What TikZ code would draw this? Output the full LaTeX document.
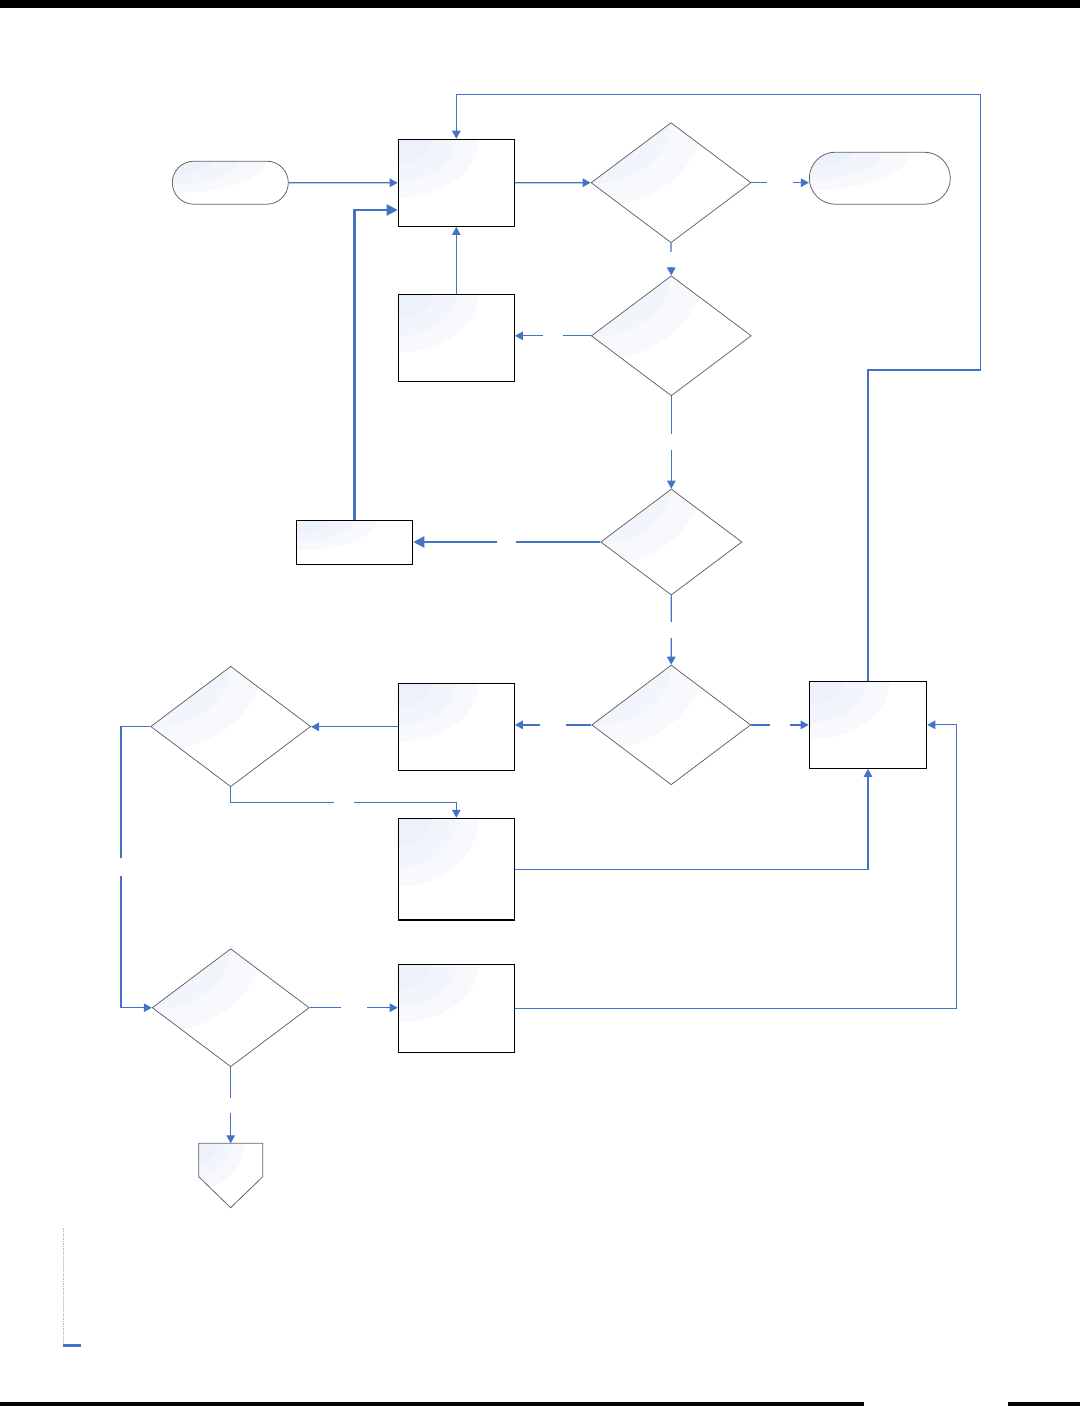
\documentclass[tikz,border=0pt]{standalone}
\usetikzlibrary{shapes.geometric,arrows.meta,calc}
\definecolor{conn}{HTML}{4472C4}
\definecolor{glA}{HTML}{ECF1FA}
\definecolor{glB}{HTML}{F2F5FB}
\definecolor{glC}{HTML}{F7F9FD}
\definecolor{dotc}{HTML}{A9C0E6}
\tikzset{
  glare/.style 2 args={path picture={
    \fill[glC] (path picture bounding box.north west) ellipse [x radius=#1, y radius=#2];
    \fill[glB] (path picture bounding box.north west) ellipse [x radius={0.72*#1}, y radius={0.72*#2}];
    \fill[glA] (path picture bounding box.north west) ellipse [x radius={0.42*#1}, y radius={0.42*#2}];
  }},
  box/.style={draw=black, line width=1.2pt, fill=white, minimum width=116pt, inner sep=0pt, glare={80pt}{58pt}},
  dia/.style={diamond, draw=black!65, line width=0.7pt, fill=white, inner sep=0pt, minimum width=160pt, minimum height=120pt, glare={110pt}{85pt}},
  term/.style={rectangle, draw=black!60, line width=0.8pt, fill=white, inner sep=0pt},
  ln/.style={draw=conn, line width=1.2pt, -{Triangle[length=8pt,width=8.5pt]}},
  lnthick/.style={draw=conn, line width=2.3pt, -{Triangle[length=11pt,width=11pt]}},
  gapn/.style={fill=white, draw=none, inner sep=0pt, minimum size=#1},
}
\begin{document}
\begin{tikzpicture}[x=1pt,y=-1pt]
\useasboundingbox (0,0) rectangle (1080,1406);
\fill[black] (0,0) rectangle (1080,8);
\fill[black] (0,1402) rectangle (864,1406);
\fill[black] (1007.5,1402) rectangle (1080,1406);

% nodes
\node[term, minimum width=116pt, minimum height=43pt, rounded corners=21.5pt, glare={93pt}{32pt}] (start) at (230.3,182.7) {};
\node[term, minimum width=141pt, minimum height=52pt, rounded corners=26pt, glare={100pt}{38pt}] (endt) at (879.8,178.2) {};
\node[box, minimum height=87pt] (A) at (456.3,182.8) {};
\node[dia] (D1) at (671,182.7) {};
\node[box, minimum height=87pt] (B) at (456.3,337.8) {};
\node[dia] (D2) at (671.3,335.8) {};
\node[dia, minimum width=141.3pt, minimum height=106pt, glare={97pt}{75pt}] (D3) at (671.3,542) {};
\node[box, minimum width=116.4pt, minimum height=44pt, glare={80pt}{30pt}] (C) at (354.5,542.3) {};
\node[dia, minimum width=159pt, minimum height=119.7pt] (D4) at (671.2,724.9) {};
\node[box, minimum width=117.4pt, minimum height=87pt] (E) at (868,724.8) {};
\node[box, minimum height=87pt] (F) at (456.3,726.8) {};
\node[dia, minimum height=120.4pt] (D5) at (230.7,726.5) {};
\node[box, minimum height=101.7pt, glare={80pt}{68pt}] (G) at (456.3,869.2) {};
\node[dia, minimum width=157pt, minimum height=118pt, glare={108pt}{84pt}] (D6) at (230.7,1007.7) {};
\node[box, minimum height=88pt] (H) at (456.3,1008.3) {};

% off-page connector
\coordinate (P) at (230.7,1143.3);
\path[draw=black!60, line width=0.8pt, fill=white, glare={45pt}{45pt}]
  ($(P)+(-32,0)$) -- ($(P)+(32,0)$) -- ($(P)+(32,33.4)$) -- ($(P)+(0,64.4)$) -- ($(P)+(-32,33.4)$) -- cycle;

\coordinate (r1) at (980.3,370);
\coordinate (r2) at (980.3,94.3);

% connectors
\draw[ln] (start.east) -- (A.west);
\draw[ln] (A.east) -- (D1.west);
\draw[ln] (D1.east) -- node[gapn=26pt]{} (D1.east -| endt.west);
\draw[ln] (D1.south) -- node[gapn=15pt]{} (D2.north);
\draw[ln] (D2.west) -- node[gapn=20pt]{} (D2.west -| B.east);
\draw[ln] (B.north) -- (A.south);
\draw[ln] (D2.south) -- node[gapn=16pt]{} (D3.north);
\draw[lnthick] (D3.west) -- node[gapn=19pt]{} (D3.west -| C.east);
\draw[lnthick] (C.north) |- ($(A.west)+(0,27.2)$);
\draw[ln] (D3.south) -- node[gapn=16pt]{} (D4.north);
\draw[ln] (D4.east) -- node[gapn=20pt]{} (D4.east -| E.west);
\draw[ln] (D4.west) -- node[gapn=26pt]{} (D4.west -| F.east);
\draw[ln] (F.west) -- (F.west -| D5.east);
\draw[ln] (D5.south) |- node[gapn=20pt, pos=0.75]{} ($(G.north)+(0,-15)$) -- (G.north);
\draw[ln] (D5.west) -- ++(-29.4,0) |- node[gapn=18pt, pos=0.25]{} (D6.west);
\draw[ln] (G.east) -| (E.south);
\draw[ln] (D6.east) -- node[gapn=26pt]{} (D6.east -| H.west);
\draw[ln] (H.east) -| ($(E.east)+(29.3,0)$) -- (E.east);
\draw[ln] (E.north) |- (r1) -- (r2) -| (A.north);
\draw[ln] (D6.south) -- node[gapn=15pt]{} (P);

% margin marks
\draw[dotc, line width=1.6pt, dash pattern=on 1.5pt off 1pt] (63.5,1228) -- (63.5,1344);
\draw[conn, line width=2.5pt] (63,1345.5) -- (81,1345.5);
\end{tikzpicture}
\end{document}
